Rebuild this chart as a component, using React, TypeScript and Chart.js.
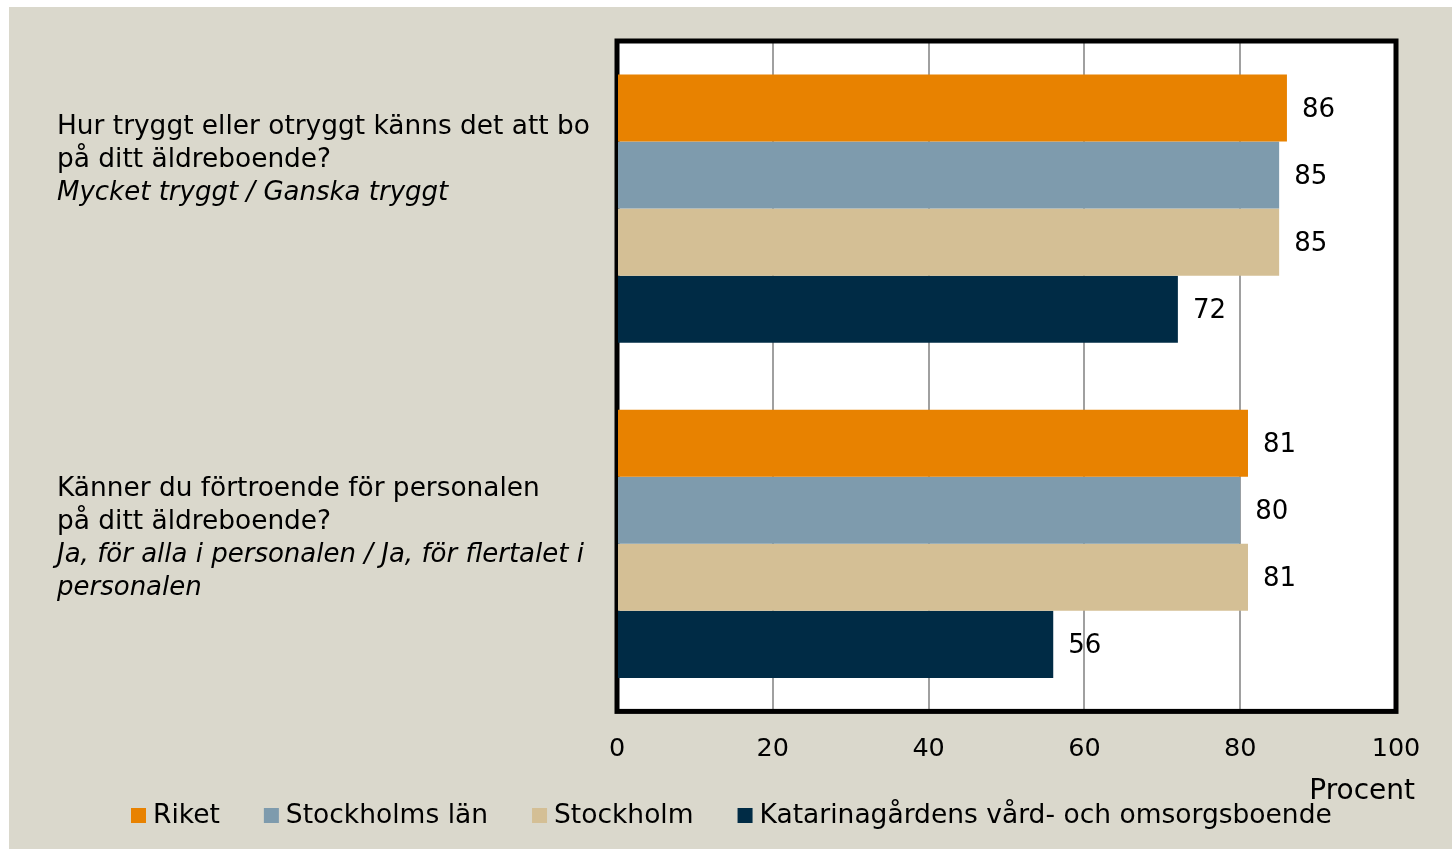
import React, { useEffect, useRef } from "react";
import { Chart, registerables } from "chart.js";

Chart.register(...registerables);

// ---- Data ----
const categories = ["Trygghet", "Förtroende"];
const questionLines = [
  ["Hur tryggt eller otryggt känns det att bo", "på ditt äldreboende?"],
  ["Känner du förtroende för personalen", "på ditt äldreboende?"],
];
const answerLines = [
  ["Mycket tryggt / Ganska tryggt"],
  ["Ja, för alla i personalen / Ja, för flertalet i", "personalen"],
];
const seriesNames = [
  "Riket",
  "Stockholms län",
  "Stockholm",
  "Katarinagårdens vård- och omsorgsboende",
];
const riket = [86, 81];
const stockholmsLan = [85, 80];
const stockholm = [85, 81];
const katarina = [72, 56];
const xTicks = [0, 20, 40, 60, 80, 100];
const axisTitle = "Procent";

// ---- Styles ----
const COLORS = ["#E88200", "#7E9BAD", "#D4BF95", "#002B45"];
const BG = "#DAD8CC";
const FONT = "'DejaVu Sans', sans-serif";
const LABEL_FIRST_LINE_OFFSET = [-81, -55];
const LINE_H = 33;

const overlayPlugin = {
  id: "overlay",
  beforeDraw(chart: any) {
    const { ctx, chartArea: a, width, height } = chart;
    ctx.save();
    ctx.fillStyle = BG;
    ctx.fillRect(0, 0, width, height);
    ctx.fillStyle = "#ffffff";
    ctx.fillRect(a.left, a.top, a.right - a.left, a.bottom - a.top);
    ctx.restore();
  },
  beforeDatasetsDraw(chart: any) {
    const { ctx, chartArea: a } = chart;
    ctx.save();
    ctx.strokeStyle = "#000000";
    ctx.lineWidth = 5;
    ctx.strokeRect(a.left, a.top, a.right - a.left, a.bottom - a.top);
    ctx.restore();
  },
  afterDraw(chart: any) {
    const { ctx } = chart;
    const yScale = chart.scales.y;
    ctx.save();
    // data labels
    ctx.font = `26px ${FONT}`;
    ctx.fillStyle = "#000";
    ctx.textBaseline = "middle";
    ctx.textAlign = "left";
    chart.data.datasets.forEach((ds: any, di: number) => {
      const meta = chart.getDatasetMeta(di);
      meta.data.forEach((bar: any, i: number) => {
        ctx.fillText(String(ds.data[i]), bar.x + 15, bar.y + 2);
      });
    });
    // category labels
    categories.forEach((_, ci) => {
      const cy = yScale.getPixelForValue(ci);
      let y = cy + LABEL_FIRST_LINE_OFFSET[ci];
      ctx.font = `26.4px ${FONT}`;
      questionLines[ci].forEach((line) => {
        ctx.fillText(line, 48, y);
        y += LINE_H;
      });
      ctx.font = `italic 26px ${FONT}`;
      answerLines[ci].forEach((line) => {
        ctx.fillText(line, 48, y);
        y += LINE_H;
      });
    });
    // axis title
    ctx.font = `28px ${FONT}`;
    ctx.textAlign = "right";
    ctx.fillText(axisTitle, 1406, 785);
    // legend
    ctx.font = `26.5px ${FONT}`;
    ctx.textAlign = "left";
    let x = 122;
    const ly = 809;
    seriesNames.forEach((name, i) => {
      ctx.fillStyle = COLORS[i];
      ctx.fillRect(x, ly - 8, 15, 15);
      ctx.fillStyle = "#000";
      ctx.fillText(name, x + 22, ly);
      x += 22 + ctx.measureText(name).width + 44;
    });
    ctx.restore();
  },
};

export default function App() {
  const ref = useRef<HTMLCanvasElement>(null);
  useEffect(() => {
    if (!ref.current) return;
    const data = [riket, stockholmsLan, stockholm, katarina];
    const chart = new Chart(ref.current, {
      type: "bar",
      data: {
        labels: categories,
        datasets: seriesNames.map((name, i) => ({
          label: name,
          data: data[i],
          backgroundColor: COLORS[i],
          borderWidth: 0,
          categoryPercentage: 0.8,
          barPercentage: 1,
        })),
      },
      options: {
        indexAxis: "y",
        animation: false,
        responsive: false,
        layout: { padding: { left: 608, top: 34, right: 56, bottom: 61 } },
        plugins: { legend: { display: false }, tooltip: { enabled: false } },
        scales: {
          x: {
            min: 0,
            max: 100,
            afterBuildTicks: (s: any) => {
              s.ticks = xTicks.map((v) => ({ value: v }));
            },
            grid: { color: "#A0A0A0", lineWidth: 2, drawTicks: false },
            border: { display: false },
            ticks: { color: "#000", font: { size: 25.5, family: FONT }, padding: 23 },
          },
          y: { display: false },
        },
      },
      plugins: [overlayPlugin],
    } as any);
    return () => chart.destroy();
  }, []);
  return (
    <div style={{ position: "absolute", left: 9, top: 7, width: 1443, height: 842 }}>
      <canvas ref={ref} width={1443} height={842} style={{ display: "block" }} />
    </div>
  );
}
